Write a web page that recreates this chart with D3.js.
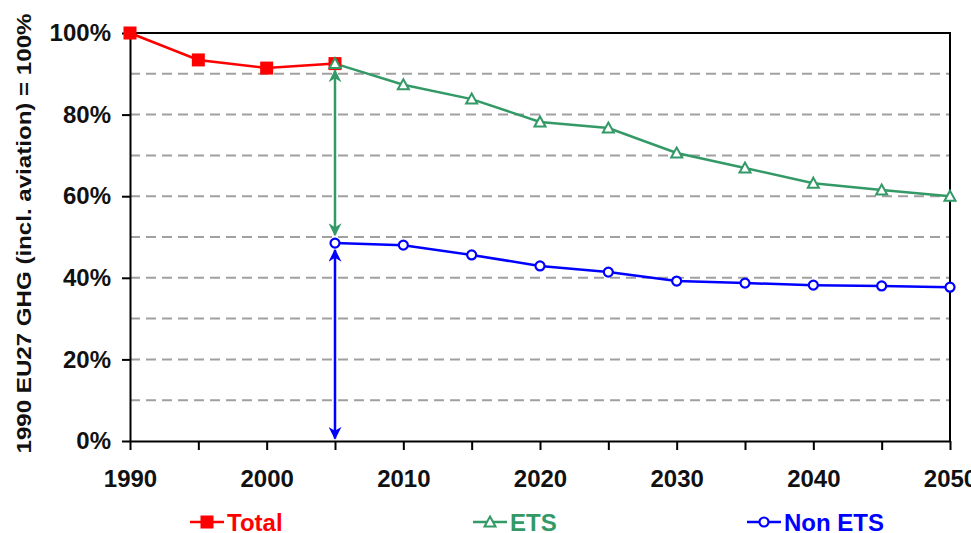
<!DOCTYPE html>
<html>
<head>
<meta charset="utf-8">
<script src="https://cdn.jsdelivr.net/npm/d3@7"></script>
<style>
  body { margin: 0; background: #fff; }
  svg { display: block; font-family: "Liberation Sans", Arial, sans-serif; }
</style>
</head>
<body>
<svg id="chart" width="971" height="533"></svg>
<script>
// data (% of 1990 EU27 GHG)
const totalYears = [1990, 1995, 2000, 2005];
const totalValues = [100, 93.4, 91.4, 92.5];

const projYears = [2005, 2010, 2015, 2020, 2025, 2030, 2035, 2040, 2045, 2050];
const etsValues = [92.5, 87.3, 83.8, 78.2, 76.7, 70.6, 66.9, 63.2, 61.5, 60.0];
const nonEtsValues = [48.5, 48.0, 45.6, 42.9, 41.4, 39.2, 38.7, 38.2, 38.0, 37.7];

const yTicks = [0, 20, 40, 60, 80, 100];
const gridValues = [10, 20, 30, 40, 50, 60, 70, 80, 90];
const xTicks = d3.range(1990, 2051, 5);

const yTitle = "1990 EU27 GHG (incl. aviation) = 100%";

// double arrows at 2005 (from value, to value)
const arrowYear = 2005;
const arrowSpans = [
  { from: 90.8, to: 50.5, color: "#339966", id: "g" },
  { from: 46.8, to: 0.6, color: "#0000ff", id: "b" }
];

const svg = d3.select("#chart");
const plot = { left: 130, right: 950, top: 33, bottom: 441 };

const x = d3.scaleLinear().domain([1990, 2050]).range([plot.left, plot.right]);
const y = d3.scaleLinear().domain([0, 100]).range([plot.bottom, plot.top]);

// grid lines
svg.append("g")
  .selectAll("line")
  .data(gridValues)
  .join("line")
  .attr("x1", plot.left).attr("x2", plot.right)
  .attr("y1", d => y(d)).attr("y2", d => y(d))
  .attr("stroke", "#a0a0a0")
  .attr("stroke-width", 2)
  .attr("stroke-dasharray", "10,6");

// plot border (top + right)
svg.append("path")
  .attr("d", `M${plot.left},${y(100)}H${x(2050)}V${y(0)}`)
  .attr("fill", "none")
  .attr("stroke", "#000")
  .attr("stroke-width", 2);

// axes
const yAxis = svg.append("g")
  .attr("transform", `translate(${plot.left},0)`)
  .call(d3.axisLeft(y).tickValues(yTicks).tickFormat(d => d + "%").tickSize(8).tickPadding(11).tickSizeOuter(0));

const xAxis = svg.append("g")
  .attr("transform", `translate(0,${plot.bottom})`)
  .call(d3.axisBottom(x).tickValues(xTicks).tickFormat(d => d % 10 === 0 ? d : "").tickSize(9).tickPadding(20).tickSizeOuter(0));

[yAxis, xAxis].forEach(g => {
  g.select(".domain").attr("stroke", "#000").attr("stroke-width", 2);
  g.selectAll(".tick line").attr("stroke", "#000").attr("stroke-width", 2);
  g.selectAll(".tick text")
    .attr("fill", "#111")
    .style("font-size", "24px")
    .style("font-weight", "bold");
});

// y title
svg.append("text")
  .attr("transform", `translate(31,${(12 + 455) / 2}) rotate(-90)`)
  .attr("text-anchor", "middle")
  .attr("textLength", 440)
  .attr("lengthAdjust", "spacingAndGlyphs")
  .style("font-size", "20px")
  .style("font-weight", "bold")
  .attr("fill", "#111")
  .text(yTitle);

// arrow markers
const defs = svg.append("defs");
arrowSpans.forEach(a => {
  defs.append("marker")
    .attr("id", "arrow-" + a.id)
    .attr("viewBox", "0 0 10 10")
    .attr("refX", 9).attr("refY", 5)
    .attr("markerUnits", "userSpaceOnUse")
    .attr("markerWidth", 13).attr("markerHeight", 13)
    .attr("orient", "auto-start-reverse")
    .append("path")
    .attr("d", "M0,0L10,5L0,10L3,5Z")
    .attr("fill", a.color);
});

svg.append("g")
  .selectAll("line")
  .data(arrowSpans)
  .join("line")
  .attr("x1", x(arrowYear)).attr("x2", x(arrowYear))
  .attr("y1", d => y(d.from)).attr("y2", d => y(d.to))
  .attr("stroke", d => d.color)
  .attr("stroke-width", 2.5)
  .attr("marker-start", d => `url(#arrow-${d.id})`)
  .attr("marker-end", d => `url(#arrow-${d.id})`);

const line = d3.line().x(d => x(d[0])).y(d => y(d[1]));

const series = [
  { name: "Total", color: "#ff0000", shape: "square", pts: d3.zip(totalYears, totalValues) },
  { name: "ETS", color: "#339966", shape: "triangle", pts: d3.zip(projYears, etsValues) },
  { name: "Non ETS", color: "#0000ff", shape: "circle", pts: d3.zip(projYears, nonEtsValues) }
];

function drawMarker(g, shape, color) {
  if (shape === "square") {
    g.append("rect").attr("x", -6.5).attr("y", -6.5).attr("width", 13).attr("height", 13).attr("fill", color);
  } else if (shape === "triangle") {
    g.append("path").attr("d", "M0,-5.5L5.5,4.5L-5.5,4.5Z")
      .attr("fill", "#fff").attr("stroke", color).attr("stroke-width", 2);
  } else {
    g.append("circle").attr("r", 4.5)
      .attr("fill", "#fff").attr("stroke", color).attr("stroke-width", 2.2);
  }
}

series.forEach(s => {
  svg.append("path")
    .attr("d", line(s.pts))
    .attr("fill", "none")
    .attr("stroke", s.color)
    .attr("stroke-width", 2.5);
});
series.forEach(s => {
  s.pts.forEach(p => {
    const g = svg.append("g").attr("transform", `translate(${x(p[0])},${y(p[1])})`);
    drawMarker(g, s.shape, s.color);
  });
});

// legend
const legendX = [190, 473, 747];
const legendY = 522;
series.forEach((s, i) => {
  const g = svg.append("g").attr("transform", `translate(${legendX[i]},${legendY})`);
  g.append("line").attr("x1", 0).attr("x2", 34).attr("stroke", s.color).attr("stroke-width", 2.5);
  const m = g.append("g").attr("transform", "translate(17,0)");
  drawMarker(m, s.shape, s.color);
  g.append("text")
    .attr("x", 37).attr("y", 0).attr("dy", "0.36em")
    .attr("fill", s.color)
    .style("font-size", "24px")
    .style("font-weight", "bold")
    .text(s.name);
});
</script>
</body>
</html>
